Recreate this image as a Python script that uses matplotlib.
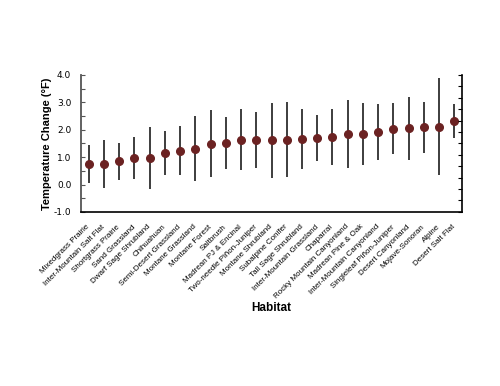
import numpy as np
import matplotlib
matplotlib.use("Agg")
import matplotlib.pyplot as plt

# habitats in plotted order
habitats = ["Mixedgrass Prairie", "Inter-Mountain Salt Flat", "Shortgrass Prairie",
            "Sand Grassland", "Dwarf Sage Shrubland", "Chihuahuan",
            "Semi-Desert Grassland", "Montane Grassland", "Montane Forest",
            "Saltbrush", "Madrean PJ & Encinal", "Two-needle Piñon-Juniper",
            "Montane Shrubland", "Subalpine Conifer", "Tall Sage Shrubland",
            "Inter-Mountain Grassland", "Chaparral", "Rocky Mountain Canyonland",
            "Madrean Pine & Oak", "Inter-Mountain Canyonland",
            "Singleleaf Piñon-Juniper", "Desert Canyonland", "Mojave-Sonoran",
            "Alpine", "Desert Salt Flat"]

# mean change (°F) and range ends
mean = [0.75, 0.76, 0.85, 0.95, 0.96, 1.14, 1.24, 1.30, 1.48, 1.52, 1.63, 1.63,
        1.63, 1.63, 1.66, 1.70, 1.75, 1.86, 1.86, 1.92, 2.04, 2.05, 2.09, 2.11, 2.32]
low = [0.05, -0.11, 0.17, 0.21, -0.16, 0.33, 0.34, 0.13, 0.28, 0.58, 0.52, 0.59,
       0.25, 0.27, 0.55, 0.84, 0.73, 0.62, 0.72, 0.89, 1.12, 0.91, 1.15, 0.33, 1.69]
high = [1.44, 1.64, 1.53, 1.72, 2.09, 1.97, 2.15, 2.50, 2.72, 2.48, 2.75, 2.66,
        2.99, 3.01, 2.75, 2.55, 2.77, 3.08, 2.99, 2.95, 2.96, 3.19, 3.01, 3.90, 2.94]

x = np.arange(len(habitats))
mean = np.array(mean)
yerr = [mean - np.array(low), np.array(high) - mean]

fig = plt.figure(figsize=(5, 3.86), dpi=100)
ax = fig.add_axes([0.162, 0.451, 0.762, 0.355])

ax.errorbar(x, mean, yerr=yerr, fmt="o", color="#6b2222", ms=5.5,
            ecolor="#2e2e2e", elinewidth=1.3, capsize=0, zorder=3)

ax.set_xlim(-0.5, len(habitats) - 0.5)
ax.set_ylim(-1, 4)
ax.set_yticks(np.arange(-1, 4.01, 1))
ax.set_yticks(np.arange(-1, 4.01, 0.5), minor=True)
ax.set_yticklabels([f"{v:.1f}" for v in np.arange(-1, 4.01, 1)],
                   family="DejaVu Sans", fontsize=6.5)
ax.tick_params(axis="y", which="both", direction="in", length=3, width=0.8,
               pad=7, color="#555555")
ax.set_xticks(x)
ax.set_xticklabels(habitats, rotation=45, ha="right", va="center",
                   rotation_mode="anchor", family="Liberation Sans", fontsize=5.8)
ax.tick_params(axis="x", length=0, pad=10)

ax.spines["top"].set_visible(False)
ax.spines["right"].set_visible(False)
ax.spines["left"].set_color("#555555")
ax.spines["left"].set_linewidth(1.3)
ax.spines["bottom"].set_linewidth(1.2)

ax.set_ylabel("Temperature Change (°F)", family="Liberation Sans",
              fontweight="bold", fontsize=8, labelpad=1)
ax.set_xlabel("Habitat", family="Liberation Sans", fontweight="bold",
              fontsize=8.5, labelpad=1)

# secondary scale on the right with unlabeled ticks
ax2 = ax.twinx()
ax2.set_ylim(0, 12)
ax2.set_yticks(np.arange(0, 13, 1))
ax2.set_yticklabels([])
ax2.tick_params(axis="y", direction="in", length=3, width=0.8)
for s in ["top", "left", "bottom"]:
    ax2.spines[s].set_visible(False)
ax2.spines["right"].set_linewidth(1.2)

fig.savefig("out.png", dpi=100)
